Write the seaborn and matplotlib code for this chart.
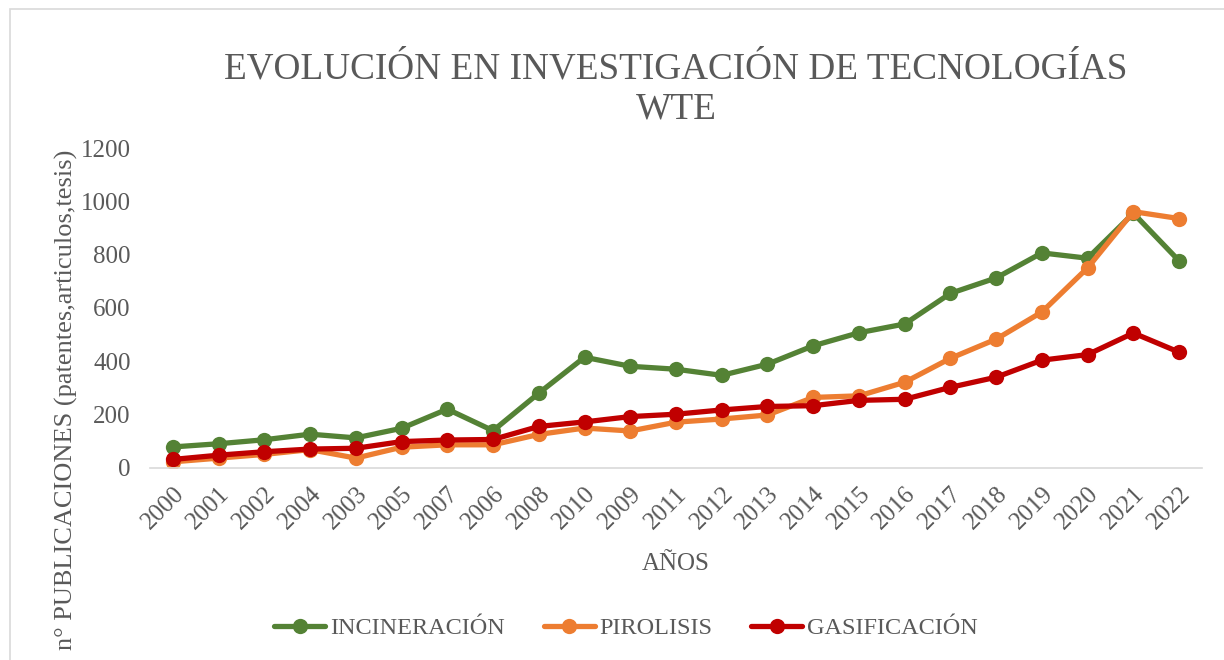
import seaborn as sns
import matplotlib.pyplot as plt
import matplotlib.patches as mpatches
import pandas as pd

# years in the order they appear on the original axis
anios = ["2000", "2001", "2002", "2004", "2003", "2005", "2007", "2006", "2008", "2010", "2009",
         "2011", "2012", "2013", "2014", "2015", "2016", "2017", "2018", "2019", "2020", "2021", "2022"]

incineracion = [78, 90, 105, 126, 112, 148, 220, 139, 280, 415, 381,
                370, 347, 389, 458, 507, 540, 655, 713, 807, 787, 956, 777]
pirolisis = [22, 36, 50, 68, 36, 77, 86, 86, 125, 149, 138,
             171, 183, 198, 264, 270, 321, 411, 483, 585, 751, 962, 936]
gasificacion = [31, 47, 60, 70, 73, 98, 104, 106, 155, 172, 192,
                201, 217, 230, 233, 253, 257, 302, 340, 404, 425, 506, 434]

series = ["INCINERACIÓN", "PIROLISIS", "GASIFICACIÓN"]
colores = ["#548235", "#ED7D31", "#C00000"]
gris = "#595959"

df = pd.concat([
    pd.DataFrame({"anio": anios, "n": incineracion, "serie": series[0]}),
    pd.DataFrame({"anio": anios, "n": pirolisis, "serie": series[1]}),
    pd.DataFrame({"anio": anios, "n": gasificacion, "serie": series[2]}),
])

sns.set_style("white")
plt.rcParams["font.family"] = ["Liberation Serif", "DejaVu Serif"]

W, H = 1224, 660
fig = plt.figure(figsize=(W / 100, H / 100), dpi=100)
ax = fig.add_axes([150 / W, (H - 467.7) / H, 1052 / W, (467.7 - 148.3) / H])

sns.lineplot(data=df, x="anio", y="n", hue="serie", palette=dict(zip(series, colores)),
             marker="o", markersize=11, markeredgewidth=0, linewidth=3.8, sort=False, ax=ax)

ax.set_xlim(-0.5, len(anios) - 0.5)
ax.set_ylim(0, 1200)
ax.set_yticks(range(0, 1201, 200))
ax.tick_params(axis="both", length=0, labelsize=18, labelcolor=gris)
ax.tick_params(axis="y", pad=14)
ax.tick_params(axis="x", pad=11)
for lab in ax.get_xticklabels():
    lab.set_rotation(45)
    lab.set_ha("right")
    lab.set_rotation_mode("anchor")

for s in ["left", "top", "right"]:
    ax.spines[s].set_visible(False)
ax.spines["bottom"].set_color("#D9D9D9")
ax.spines["bottom"].set_linewidth(1.2)

ax.set_xlabel("AÑOS", fontsize=18, color=gris, labelpad=14)
ax.set_ylabel("")
fig.text(66 / W, 1 - 400 / H, "n° PUBLICACIONES (patentes,articulos,tesis)",
         rotation=90, ha="center", va="center", fontsize=19, color=gris)

fig.text(676 / W, 1 - 52 / H, "EVOLUCIÓN EN INVESTIGACIÓN DE TECNOLOGÍAS\nWTE",
         ha="center", va="top", fontsize=26.8, color=gris, linespacing=1.2)

sns.move_legend(ax, "center", bbox_to_anchor=(626 / W, 1 - 628 / H), bbox_transform=fig.transFigure,
                ncol=3, title=None, frameon=False, fontsize=17.5, handlelength=2.1,
                handletextpad=0.2, columnspacing=1.6, labelcolor=gris)

fig.patches.append(mpatches.Rectangle((10 / W, -0.05), 1.1, 1 - 9 / H + 0.05,
                                      transform=fig.transFigure, fill=False,
                                      edgecolor="#D9D9D9", linewidth=1.2))

fig.savefig("out.png", dpi=100)
